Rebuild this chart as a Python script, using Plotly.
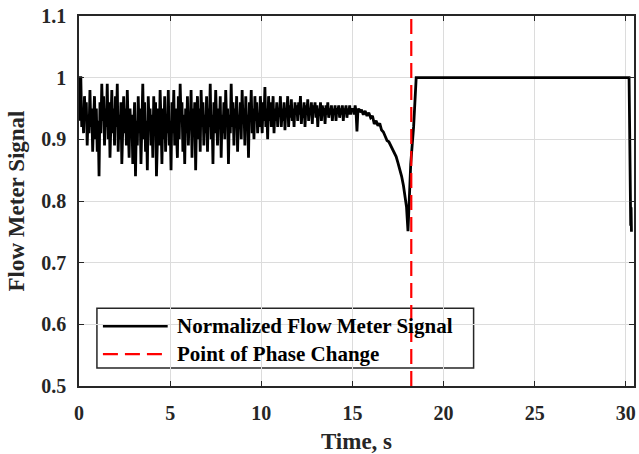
import plotly.graph_objects as go

# Noisy segment: samples every 0.05 s from t = 0 to 15.4 s
noisy_t0 = 0.0
noisy_dt = 0.05
noisy_vals = [
    0.93, 1.00, 1.00, 0.92, 0.95, 0.91, 0.97, 0.93, 0.96, 0.89, 0.94, 0.91, 0.98, 0.92, 0.95, 0.88, 0.93, 0.97, 0.90, 0.95,
    0.88, 0.93, 0.84, 0.96, 0.91, 0.99, 0.93, 0.97, 0.89, 0.95, 0.92, 0.99, 0.90, 0.96, 0.87, 0.94, 0.98, 0.91, 0.95, 0.89,
    0.97, 0.92, 0.99, 0.88, 0.94, 0.90, 0.96, 0.86, 0.93, 0.97, 0.91, 0.95, 0.89, 0.98, 0.92, 0.87, 0.95, 0.91, 0.94, 0.86,
    0.92, 0.96, 0.84, 0.93, 0.89, 0.97, 0.91, 0.95, 0.86, 0.94, 0.99, 0.90, 0.96, 0.88, 0.93, 0.85, 0.97, 0.92, 0.95, 0.89,
    0.94, 0.87, 0.97, 0.91, 0.96, 0.84, 0.92, 0.95, 0.89, 0.98, 0.93, 0.86, 0.95, 0.90, 0.97, 0.88, 0.94, 0.91, 0.98, 0.89,
    0.93, 0.85, 0.96, 0.91, 0.98, 0.89, 0.95, 0.92, 0.87, 0.97, 0.90, 0.99, 0.93, 0.96, 0.88, 0.94, 0.86, 0.95, 0.91, 0.97,
    0.89, 0.94, 0.92, 0.98, 0.87, 0.95, 0.91, 0.96, 0.85, 0.93, 0.97, 0.90, 0.95, 0.88, 0.98, 0.92, 0.96, 0.89, 0.94, 0.91,
    0.97, 0.88, 0.95, 0.92, 0.99, 0.90, 0.94, 0.86, 0.96, 0.91, 0.98, 0.93, 0.89, 0.95, 0.92, 0.97, 0.87, 0.94, 0.91, 0.96,
    0.90, 0.98, 0.93, 0.95, 0.86, 0.94, 0.91, 0.99, 0.92, 0.96, 0.89, 0.95, 0.93, 0.97, 0.88, 0.94, 0.92, 0.96, 0.90, 0.98,
    0.93, 0.95, 0.89, 0.97, 0.92, 0.94, 0.87, 0.96, 0.93, 0.98, 0.91, 0.95, 0.90, 0.97, 0.93, 0.96, 0.91, 0.94, 0.92, 0.97,
    0.94, 0.91, 0.96, 0.93, 0.985, 0.92, 0.95, 0.90, 0.97, 0.93, 0.96, 0.92, 0.94, 0.97, 0.91, 0.95, 0.93, 0.96, 0.92, 0.95,
    0.94, 0.97, 0.92, 0.95, 0.93, 0.96, 0.915, 0.95, 0.94, 0.97, 0.92, 0.955, 0.935, 0.965, 0.93, 0.95, 0.92, 0.96, 0.94, 0.955,
    0.93, 0.96, 0.94, 0.97, 0.925, 0.95, 0.935, 0.96, 0.92, 0.955, 0.94, 0.965, 0.93, 0.95, 0.94, 0.96, 0.925, 0.955, 0.945, 0.96,
    0.935, 0.955, 0.92, 0.95, 0.94, 0.96, 0.93, 0.955, 0.945, 0.95, 0.925, 0.955, 0.94, 0.96, 0.935, 0.95, 0.94, 0.955, 0.93, 0.95,
    0.94, 0.955, 0.93, 0.95, 0.945, 0.955, 0.935, 0.95, 0.94, 0.955, 0.93, 0.95, 0.945, 0.955, 0.935, 0.95, 0.94, 0.955, 0.94, 0.95,
    0.945, 0.95, 0.94, 0.955, 0.945, 0.913, 0.945, 0.95, 0.944,
]

# Decline, phase change and saturated segment
tail_t = [15.5, 15.6, 15.7, 15.8, 15.9, 16.0, 16.1, 16.2, 16.3, 16.4,
          16.5, 16.6, 16.7, 16.8, 16.9, 17.0, 17.1, 17.2, 17.3, 17.4,
          17.5, 17.6, 17.7, 17.8, 17.9, 17.97, 18.05, 18.2, 18.36, 18.5,
          30.18, 30.24, 30.27, 30.29, 30.31]
tail_v = [0.948, 0.94, 0.946, 0.938, 0.943, 0.935, 0.938, 0.925, 0.93, 0.922,
          0.926, 0.915, 0.912, 0.905, 0.898, 0.896, 0.89, 0.885, 0.878, 0.872,
          0.862, 0.852, 0.84, 0.825, 0.808, 0.79, 0.751, 0.86, 0.921, 1.0,
          1.0, 0.80, 0.76, 0.79, 0.75]

phase_change_t = 18.23

x_ticks = [0, 5, 10, 15, 20, 25, 30]
x_labels = ["0", "5", "10", "15", "20", "25", "30"]
y_ticks = [0.5, 0.6, 0.7, 0.8, 0.9, 1.0, 1.1]
y_labels = ["0.5", "0.6", "0.7", "0.8", "0.9", "1", "1.1"]

legend_labels = ["Normalized Flow Meter Signal", "Point of Phase Change"]

time = [round(noisy_t0 + i * noisy_dt, 3) for i in range(len(noisy_vals))] + tail_t
signal = noisy_vals + tail_v

font_family = "Liberation Serif"
axis_color = "#262626"

fig = go.Figure()
fig.add_trace(go.Scatter(
    x=time, y=signal, mode="lines",
    line=dict(color="black", width=2.8),
    name=legend_labels[0], showlegend=False,
))
fig.add_trace(go.Scatter(
    x=[phase_change_t, phase_change_t], y=[0.5, 1.1], mode="lines",
    line=dict(color="#ff0000", width=2.2, dash="15px,7px"),
    name=legend_labels[1], showlegend=False,
))

axis_common = dict(
    showgrid=True, gridcolor="#dcdcdc", gridwidth=1,
    showline=True, linecolor=axis_color, linewidth=1.5, mirror="ticks",
    ticks="inside", ticklen=5, tickwidth=1.2, tickcolor=axis_color,
    zeroline=False,
    tickfont=dict(family=font_family, size=20, color=axis_color),
)

# Legend drawn as a box (between grid and traces), sample lines and text
leg_x0, leg_x1, leg_y0, leg_y1 = 0.0323, 0.711, 0.0485, 0.2102
row_y = [0.1617, 0.0863]
sample_x0, sample_x1 = 0.0431, 0.1598
text_x = 0.1724

shapes = [
    dict(type="rect", xref="paper", yref="paper", x0=leg_x0, x1=leg_x1, y0=leg_y0, y1=leg_y1,
         fillcolor="white", line=dict(color=axis_color, width=1.5), layer="between"),
    dict(type="line", xref="paper", yref="paper", x0=sample_x0, x1=sample_x1, y0=row_y[0], y1=row_y[0],
         line=dict(color="black", width=2.5), layer="above"),
    dict(type="line", xref="paper", yref="paper", x0=sample_x0, x1=sample_x1, y0=row_y[1], y1=row_y[1],
         line=dict(color="#ff0000", width=2.2, dash="15px,7px"), layer="above"),
]
annotations = [
    dict(xref="paper", yref="paper", x=text_x, y=row_y[i], xanchor="left", yanchor="middle",
         text="<b>" + legend_labels[i] + "</b>", showarrow=False,
         font=dict(family=font_family, size=21, color="black"))
    for i in range(2)
]

fig.update_layout(
    width=639, height=454,
    margin=dict(l=79, r=3, t=16, b=67),
    paper_bgcolor="white", plot_bgcolor="white",
    font=dict(family=font_family, color=axis_color),
    xaxis=dict(
        range=[0, 30.45], tickvals=x_ticks, ticktext=["<b>" + s + "</b>" for s in x_labels],
        ticklabelstandoff=8,
        title=dict(text="<b>Time, s</b>", font=dict(family=font_family, size=23, color=axis_color), standoff=11),
        **axis_common,
    ),
    yaxis=dict(
        range=[0.5, 1.1], tickvals=y_ticks, ticktext=["<b>" + s + "</b>" for s in y_labels],
        ticklabelstandoff=7,
        title=dict(text="<b>Flow Meter Signal</b>", font=dict(family=font_family, size=23, color=axis_color), standoff=10),
        **axis_common,
    ),
    shapes=shapes,
    annotations=annotations,
    showlegend=False,
)

fig.write_html("out.html")
